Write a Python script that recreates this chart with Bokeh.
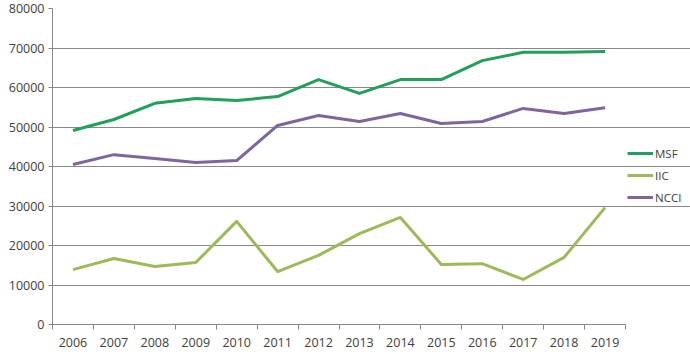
from bokeh.plotting import figure
from bokeh.models import FixedTicker, Range1d, Legend, LegendItem
from bokeh.embed import file_html
from bokeh.resources import INLINE

years = ["2006", "2007", "2008", "2009", "2010", "2011", "2012",
         "2013", "2014", "2015", "2016", "2017", "2018", "2019"]
msf = [49100, 51900, 56000, 57200, 56700, 57700, 62000,
       58500, 62000, 62000, 66800, 68900, 68900, 69100]
iic = [13900, 16700, 14700, 15700, 26100, 13400, 17500,
       23000, 27100, 15200, 15400, 11400, 17000, 29600]
ncci = [40500, 43000, 42000, 41000, 41500, 50400, 52900,
        51400, 53400, 50900, 51400, 54700, 53400, 54900]
y_ticks = [0, 10000, 20000, 30000, 40000, 50000, 60000, 70000, 80000]

n = len(years)
xs = [i + 0.5 for i in range(n)]

FONT = "Open Sans"
GRID = "#888888"
TEXT = "#404040"

PLOT_W = 573      # width of the drawn chart area
FRAME_W = 638     # frame extends under the legend
x_end = n * FRAME_W / PLOT_W

p = figure(frame_width=FRAME_W, frame_height=316, output_backend="svg",
           toolbar_location=None,
           x_range=Range1d(0, x_end), y_range=Range1d(0, 80000),
           min_border_left=52, min_border_right=0, min_border_top=8,
           min_border_bottom=30)
p.outline_line_color = None
p.xgrid.grid_line_color = None
p.ygrid.grid_line_color = GRID
p.ygrid.grid_line_width = 1
p.ygrid.bounds = (0, n)

xt = FixedTicker(ticks=xs, minor_ticks=list(range(n + 1)))
p.xaxis.ticker = xt
p.xaxis.bounds = (0, n)
p.xaxis.major_label_overrides = {x: y for x, y in zip(xs, years)}
p.xaxis.major_tick_out = 0
p.xaxis.major_tick_in = 0
p.xaxis.minor_tick_out = 5
p.xaxis.minor_tick_in = 0
p.xaxis.minor_tick_line_color = GRID
p.xaxis.axis_line_color = GRID
p.xaxis.major_label_standoff = 8

p.yaxis.ticker = FixedTicker(ticks=y_ticks)
p.yaxis.major_tick_out = 4
p.yaxis.major_tick_in = 0
p.yaxis.minor_tick_line_color = None
p.yaxis.axis_line_color = GRID
p.yaxis.major_tick_line_color = GRID
p.yaxis.major_label_standoff = 4

for ax in (p.xaxis, p.yaxis):
    ax.major_label_text_font = FONT
    ax.major_label_text_font_size = "12.5px"
    ax.major_label_text_color = TEXT

r_msf = p.line(xs, msf, line_color="#20a05a", line_width=3, line_join="round")
r_iic = p.line(xs, iic, line_color="#9bbb59", line_width=3, line_join="round")
r_ncci = p.line(xs, ncci, line_color="#7f64a0", line_width=3, line_join="round")

legend = Legend(items=[LegendItem(label="MSF", renderers=[r_msf]),
                       LegendItem(label="IIC", renderers=[r_iic]),
                       LegendItem(label="NCCI", renderers=[r_ncci])],
                location=(PLOT_W + 2, 117), orientation="vertical",
                border_line_color=None, background_fill_alpha=0,
                padding=0, margin=0, spacing=2, glyph_width=26,
                glyph_height=20, label_height=20, label_standoff=2,
                label_text_font=FONT, label_text_font_size="11.5px",
                label_text_color=TEXT)
p.add_layout(legend)

open("out.html", "w").write(file_html(p, INLINE))
